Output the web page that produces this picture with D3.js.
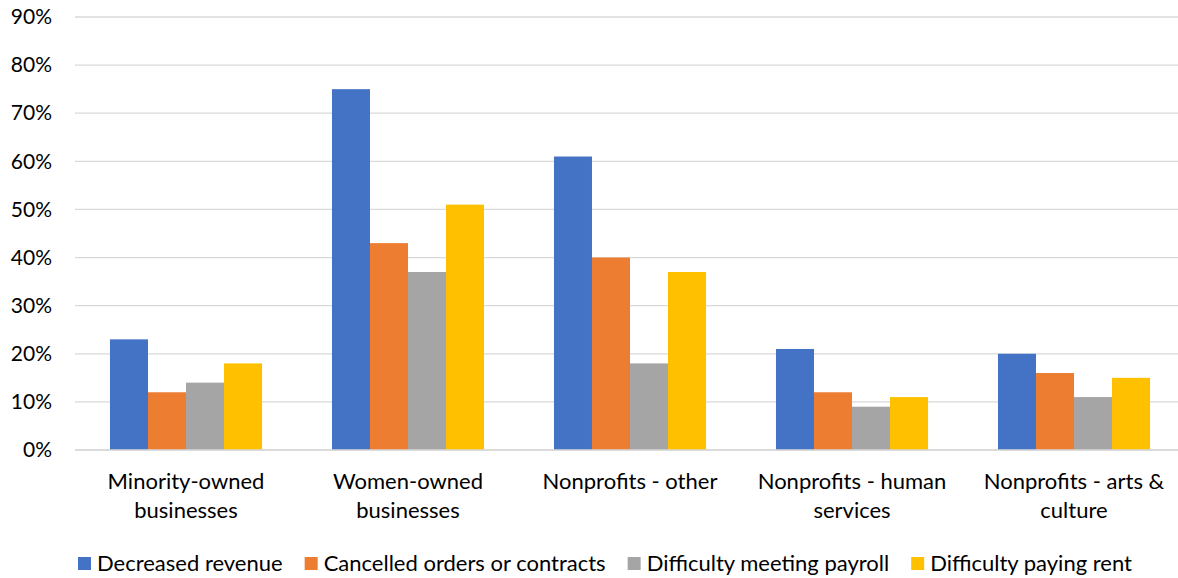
<!DOCTYPE html>
<html>
<head>
<meta charset="utf-8">
<script src="https://cdn.jsdelivr.net/npm/d3@7"></script>
<style>
  html, body { margin: 0; padding: 0; background: #fff; }
  svg text { font-family: Lato, "Open Sans", sans-serif; fill: #000; }
</style>
</head>
<body>
<svg id="chart" width="1178" height="578"></svg>
<script>
// Share of organisations reporting each impact, by organisation type
const categories = [
  ["Minority-owned", "businesses"],
  ["Women-owned", "businesses"],
  ["Nonprofits - other"],
  ["Nonprofits - human", "services"],
  ["Nonprofits - arts &", "culture"]
];
const seriesNames = [
  "Decreased revenue",
  "Cancelled orders or contracts",
  "Difficulty meeting payroll",
  "Difficulty paying rent"
];
const decreasedRevenue = [23, 75, 61, 21, 20];
const cancelledOrders  = [12, 43, 40, 12, 16];
const meetingPayroll   = [14, 37, 18, 9, 11];
const payingRent       = [18, 51, 37, 11, 15];
const yTicks = [0, 10, 20, 30, 40, 50, 60, 70, 80, 90];

const seriesValues = [decreasedRevenue, cancelledOrders, meetingPayroll, payingRent];
const colors = ["#4472C4", "#ED7D31", "#A5A5A5", "#FFC000"];

const svg = d3.select("#chart");
const plot = { left: 75, right: 1185, top: 17, bottom: 450 };

const catKeys = categories.map(c => c.join(" "));
const x0 = d3.scaleBand().domain(catKeys).range([plot.left, plot.right])
  .paddingInner(0.315).paddingOuter(0.1575);
const x1 = d3.scaleBand().domain(d3.range(seriesNames.length)).range([0, x0.bandwidth()]);
const y = d3.scaleLinear().domain([0, 90]).range([plot.bottom, plot.top]);

// gridlines
svg.append("g").selectAll("line").data(yTicks).join("line")
  .attr("x1", plot.left).attr("x2", plot.right)
  .attr("y1", d => y(d)).attr("y2", d => y(d))
  .attr("stroke", "#D9D9D9").attr("stroke-width", 1.3);

// y-axis labels
const yAxis = d3.axisLeft(y).tickValues(yTicks).tickFormat(d => d + "%").tickSize(0).tickPadding(0);
const yg = svg.append("g").attr("transform", "translate(52,0)").call(yAxis);
yg.select(".domain").remove();
yg.selectAll("text").style("font-family", "Lato, 'Open Sans', sans-serif").style("font-size", "21px").attr("fill", "#000");

// bars
const groups = svg.append("g").selectAll("g").data(catKeys).join("g")
  .attr("transform", d => `translate(${x0(d)},0)`);
groups.selectAll("rect")
  .data((d, i) => seriesValues.map((vals, s) => ({ s, v: vals[i] })))
  .join("rect")
  .attr("x", d => x1(d.s))
  .attr("width", x1.bandwidth())
  .attr("y", d => y(d.v))
  .attr("height", d => y(0) - y(d.v))
  .attr("fill", d => colors[d.s]);

// baseline
svg.append("line").attr("x1", plot.left).attr("x2", plot.right)
  .attr("y1", y(0)).attr("y2", y(0)).attr("stroke", "#D9D9D9").attr("stroke-width", 1.3);

// category labels
const lab = svg.append("g").selectAll("text").data(categories).join("text")
  .attr("text-anchor", "middle")
  .attr("x", (d, i) => x0(catKeys[i]) + x0.bandwidth() / 2)
  .attr("y", 489)
  .style("font-size", "22px");
lab.selectAll("tspan").data(d => d).join("tspan")
  .attr("x", function () { return this.parentNode.getAttribute("x"); })
  .attr("dy", (d, i) => i === 0 ? 0 : 29)
  .text(d => d);

// legend
const legend = svg.append("g").attr("transform", "translate(78,0)");
let cx = 0;
seriesNames.forEach((name, i) => {
  const g = legend.append("g").attr("transform", `translate(${cx},0)`);
  g.append("rect").attr("x", 0).attr("y", 557).attr("width", 13).attr("height", 13).attr("fill", colors[i]);
  const t = g.append("text").attr("x", 19).attr("y", 571).style("font-size", "22px").text(name);
  cx += 19 + t.node().getComputedTextLength() + 22;
});
</script>
</body>
</html>
